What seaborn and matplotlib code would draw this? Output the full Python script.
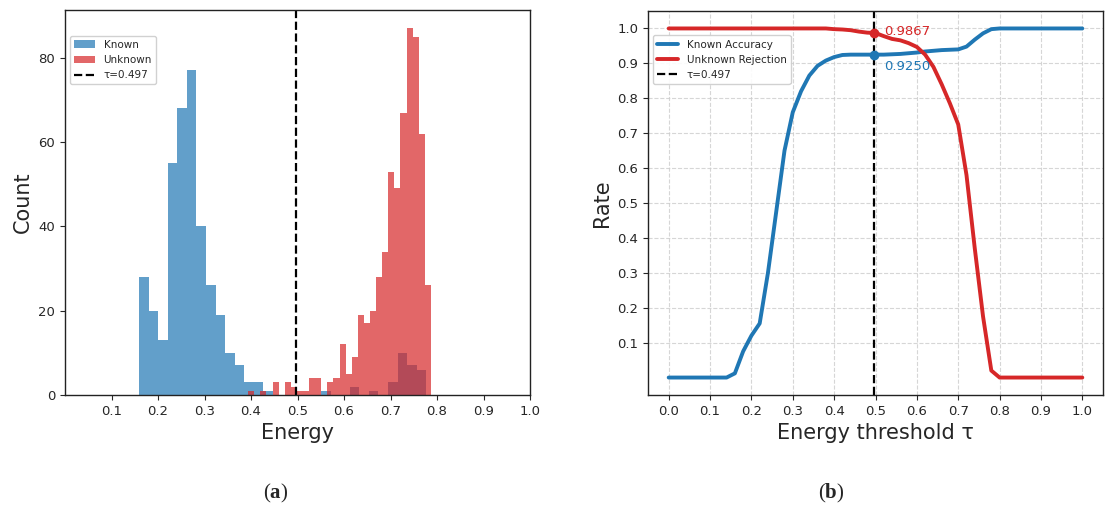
import numpy as np
import matplotlib
matplotlib.use("Agg")
import matplotlib.pyplot as plt
import seaborn as sns

# Histogram counts: 30 bins per class
known_bin_range = (0.159, 0.777)
known_counts = [28, 20, 13, 55, 68, 77, 40, 26, 19, 10, 7, 3, 3, 1, 0,
                0, 0, 0, 0, 1, 0, 0, 2, 0, 1, 0, 3, 10, 7, 6]
unknown_bin_range = (0.394, 0.787)
unknown_counts = [1, 0, 1, 0, 3, 0, 3, 2, 1, 1, 4, 4, 0, 3, 4,
                  12, 5, 9, 19, 17, 20, 28, 34, 53, 49, 67, 87, 85, 62, 26]
tau = 0.497

thresholds = np.linspace(0.0, 1.0, 51)
known_acc = [0, 0, 0, 0, 0, 0, 0, 0,
             0.012, 0.075, 0.12, 0.155, 0.30, 0.475, 0.65, 0.76, 0.82, 0.865,
             0.893, 0.908, 0.918, 0.924, 0.925, 0.925, 0.925, 0.925, 0.925,
             0.926, 0.927, 0.929, 0.931, 0.934, 0.936, 0.938, 0.939, 0.940,
             0.948, 0.968, 0.986, 0.998,
             1, 1, 1, 1, 1, 1, 1, 1, 1, 1, 1]
unknown_rej = [1] * 20 + [0.998, 0.997, 0.995, 0.991, 0.988, 0.987, 0.978,
                          0.970, 0.966, 0.958, 0.947, 0.925, 0.890, 0.840,
                          0.785, 0.725, 0.58, 0.37, 0.175, 0.02] + [0] * 11
acc_at_tau = 0.9250
rej_at_tau = 0.9867

BLUE = "#1f77b4"
RED = "#d62728"

sns.set_style("ticks")
plt.rcParams["font.family"] = ["DejaVu Sans"]
plt.rcParams["mathtext.fontset"] = "custom"
plt.rcParams["mathtext.rm"] = "Liberation Serif"
plt.rcParams["mathtext.bf"] = "Liberation Serif:bold"
plt.rcParams["axes.edgecolor"] = "#222222"

W, H = 1105, 509
fig = plt.figure(figsize=(W / 100, H / 100), dpi=100)
ax1 = fig.add_axes([65 / W, (H - 395) / H, (530 - 65) / W, (395 - 10) / H])
ax2 = fig.add_axes([648 / W, (H - 395) / H, (1103 - 648) / W, (395 - 11) / H])


def expand(counts, rng):
    edges = np.linspace(rng[0], rng[1], len(counts) + 1)
    centers = (edges[:-1] + edges[1:]) / 2
    return np.repeat(centers, counts), edges


# (a) energy histograms
known_e, known_edges = expand(known_counts, known_bin_range)
unknown_e, unknown_edges = expand(unknown_counts, unknown_bin_range)
sns.histplot(x=known_e, bins=known_edges, color=BLUE, alpha=0.7,
             linewidth=0, label="Known", ax=ax1)
sns.histplot(x=unknown_e, bins=unknown_edges, color=RED, alpha=0.7,
             linewidth=0, label="Unknown", ax=ax1)
tau_line = ax1.axvline(tau, color="black", linestyle="--", linewidth=1.6,
                       label=f"τ={tau}")
ax1.set_xlim(0, 1.0)
ax1.set_xticks(np.arange(0.1, 1.01, 0.1))
ax1.set_yticks([0, 20, 40, 60, 80])
ax1.set_xlabel("Energy", fontsize=15)
ax1.set_ylabel("Count", fontsize=15)
ax1.tick_params(labelsize=9.5)
handles, labels = ax1.get_legend_handles_labels()
order = [labels.index("Known"), labels.index("Unknown"), labels.index(f"τ={tau}")]
ax1.legend([handles[i] for i in order], [labels[i] for i in order],
           loc="upper left", bbox_to_anchor=(0, 0.947), fontsize=7.5,
           framealpha=0.9)

# (b) rates vs threshold
sns.lineplot(x=thresholds, y=known_acc, color=BLUE, linewidth=2.8,
             label="Known Accuracy", ax=ax2)
sns.lineplot(x=thresholds, y=unknown_rej, color=RED, linewidth=2.8,
             label="Unknown Rejection", ax=ax2)
ax2.axvline(tau, color="black", linestyle="--", linewidth=1.6, label=f"τ={tau}")
ax2.plot([tau], [rej_at_tau], "o", color=RED, markersize=6)
ax2.plot([tau], [acc_at_tau], "o", color=BLUE, markersize=6)
ax2.annotate(f"{rej_at_tau:.4f}", (tau, rej_at_tau), xytext=(7, 1.5),
             textcoords="offset points", color=RED, fontsize=9.5, va="center")
ax2.annotate(f"{acc_at_tau:.4f}", (tau, acc_at_tau), xytext=(7, -8.5),
             textcoords="offset points", color=BLUE, fontsize=9.5, va="center")
ax2.set_xlim(-0.05, 1.05)
ax2.set_ylim(-0.05, 1.05)
ax2.set_xticks(np.arange(0, 1.01, 0.1))
ax2.set_yticks(np.arange(0.1, 1.01, 0.1))
ax2.grid(True, linestyle="--", color="#cccccc", alpha=0.8, linewidth=0.8)
ax2.set_xlabel("Energy threshold τ", fontsize=15)
ax2.set_ylabel("Rate", fontsize=15)
ax2.tick_params(labelsize=9.5)
ax2.legend(loc="upper left", bbox_to_anchor=(0, 0.95), fontsize=7.5,
           framealpha=0.9)

for ax in (ax1, ax2):
    for s in ax.spines.values():
        s.set_visible(True)
        s.set_linewidth(1.0)

fig.text(276 / W, 1 - 493 / H, r"($\mathbf{a}$)", fontsize=15,
         family="Liberation Serif", ha="center", va="center")
fig.text(831 / W, 1 - 493 / H, r"($\mathbf{b}$)", fontsize=15,
         family="Liberation Serif", ha="center", va="center")

fig.savefig("out.png", dpi=100)
